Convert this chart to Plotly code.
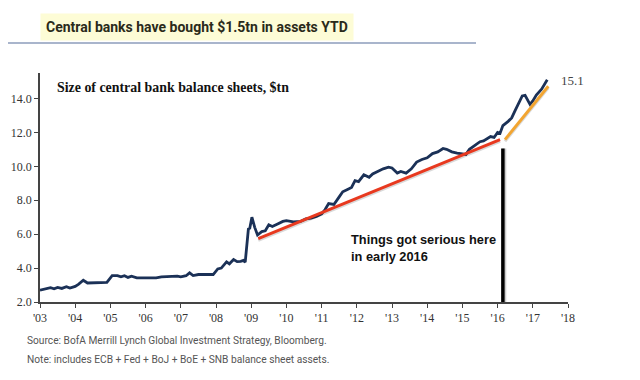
import plotly.graph_objects as go

# ---- data (decimal years, $tn) ----
dates = [2003.00, 2003.15, 2003.30, 2003.40, 2003.50, 2003.62, 2003.75, 2003.85, 2004.00, 2004.10,
         2004.23, 2004.35, 2004.50, 2004.70, 2004.90, 2005.05, 2005.20, 2005.30, 2005.40, 2005.50,
         2005.60, 2005.75, 2005.90, 2006.10, 2006.30, 2006.45, 2006.60, 2006.75, 2006.90, 2007.00,
         2007.15, 2007.25, 2007.35, 2007.50, 2007.65, 2007.80, 2007.92, 2008.05, 2008.15, 2008.30,
         2008.38, 2008.50, 2008.60, 2008.70, 2008.78, 2008.83, 2008.88, 2008.92, 2008.96, 2009.02,
         2009.10, 2009.18, 2009.30, 2009.40, 2009.50, 2009.60, 2009.75, 2009.90, 2010.00, 2010.20,
         2010.40, 2010.55, 2010.70, 2010.85, 2011.00, 2011.10, 2011.20, 2011.35, 2011.50, 2011.60,
         2011.75, 2011.85, 2011.95, 2012.05, 2012.20, 2012.35, 2012.45, 2012.60, 2012.75, 2012.90,
         2013.00, 2013.15, 2013.25, 2013.40, 2013.55, 2013.70, 2013.85, 2014.00, 2014.15, 2014.30,
         2014.45, 2014.55, 2014.70, 2014.85, 2015.00, 2015.10, 2015.20, 2015.35, 2015.50, 2015.60,
         2015.70, 2015.80, 2015.90, 2016.00, 2016.07, 2016.15, 2016.30, 2016.40, 2016.50, 2016.60,
         2016.70, 2016.78, 2016.92, 2017.00, 2017.10, 2017.25, 2017.35, 2017.41]
balance = [2.70, 2.78, 2.84, 2.78, 2.86, 2.80, 2.90, 2.82, 2.92, 3.05,
           3.28, 3.12, 3.14, 3.14, 3.16, 3.55, 3.55, 3.48, 3.55, 3.45,
           3.52, 3.42, 3.42, 3.40, 3.42, 3.48, 3.50, 3.48, 3.52, 3.48,
           3.55, 3.72, 3.56, 3.62, 3.62, 3.66, 3.62, 3.95, 4.00, 4.37,
           4.25, 4.50, 4.38, 4.40, 4.45, 4.35, 5.40, 6.30, 6.35, 7.00,
           6.40, 5.95, 6.15, 6.20, 6.55, 6.45, 6.60, 6.75, 6.80, 6.72,
           6.75, 6.90, 6.95, 7.05, 7.20, 7.45, 7.80, 7.75, 8.20, 8.50,
           8.65, 8.75, 9.15, 9.10, 9.50, 9.35, 9.55, 9.70, 9.85, 9.95,
           9.90, 9.60, 9.70, 9.60, 9.85, 10.25, 10.40, 10.50, 10.75, 10.85,
           11.05, 11.00, 10.85, 10.78, 10.75, 10.70, 11.00, 11.25, 11.45, 11.50,
           11.65, 11.75, 11.70, 12.00, 11.95, 12.40, 12.65, 12.85, 13.30, 13.75,
           14.15, 14.18, 13.65, 13.85, 14.20, 14.55, 14.85, 15.10]

trend1_x = [2009.20, 2016.07]
trend1_y = [5.74, 11.57]
trend2_x = [2016.21, 2017.44]
trend2_y = [11.57, 14.72]
marker_x = [2016.15, 2016.15]
marker_y = [2.0, 11.05]

year_ticks = list(range(2003, 2019))
year_labels = ["'%02d" % (y % 100) for y in year_ticks]
y_ticks = [2, 4, 6, 8, 10, 12, 14]
last_label = "15.1"

SERIF = "Liberation Serif, Times New Roman, serif"
SANS = "Roboto, Liberation Sans, Arial, sans-serif"

fig = go.Figure()
# soft shadow of the vertical marker
fig.add_trace(go.Scatter(x=[marker_x[0] + 0.04, marker_x[1] + 0.04], y=marker_y, mode="lines",
                         line=dict(color="rgba(0,0,0,0.2)", width=4), hoverinfo="skip"))
fig.add_trace(go.Scatter(x=marker_x, y=marker_y, mode="lines",
                         line=dict(color="#000000", width=3.5), hoverinfo="skip"))
fig.add_trace(go.Scatter(x=dates, y=balance, mode="lines",
                         line=dict(color="#1b3157", width=2.8)))
fig.add_trace(go.Scatter(x=trend1_x, y=[v - 0.1 for v in trend1_y], mode="lines",
                         line=dict(color="rgba(0,0,0,0.15)", width=3), hoverinfo="skip"))
fig.add_trace(go.Scatter(x=trend1_x, y=trend1_y, mode="lines",
                         line=dict(color="#e8391f", width=3)))
fig.add_trace(go.Scatter(x=trend2_x, y=[v - 0.1 for v in trend2_y], mode="lines",
                         line=dict(color="rgba(0,0,0,0.15)", width=3), hoverinfo="skip"))
fig.add_trace(go.Scatter(x=trend2_x, y=trend2_y, mode="lines",
                         line=dict(color="#f2a531", width=3)))

# page body has an 8px margin, so the figure is 8px smaller and shifted
fig.update_layout(
    width=632, height=372,
    margin=dict(l=32, r=72, t=65, b=78, autoexpand=False),
    paper_bgcolor="white", plot_bgcolor="white",
    showlegend=False,
    xaxis=dict(range=[2003, 2018], tickvals=year_ticks, ticktext=year_labels, automargin=False,
               showgrid=False, zeroline=False, showline=True, linecolor="#444", linewidth=1.5,
               ticks="outside", ticklen=4, tickcolor="#444", tickwidth=1.2,
               tickfont=dict(family=SERIF, size=12, color="#333")),
    yaxis=dict(range=[2, 15.5], tickvals=y_ticks, tickformat=".1f", automargin=False,
               showgrid=False, zeroline=False, showline=True, linecolor="#444", linewidth=1.5,
               ticks="outside", ticklen=4, tickcolor="#444", tickwidth=1.2,
               tickfont=dict(family=SERIF, size=12, color="#333")),
)

annotations = [
    dict(text="<b>Central banks have bought $1.5tn in assets YTD</b>", xref="paper", yref="paper",
         x=0.298, y=1.2, xanchor="center", yanchor="middle", showarrow=False,
         bgcolor="#fdfcd6", borderpad=5,
         font=dict(family=SANS, size=14, color="#2a2a1a")),
    dict(text="<b>Size of central bank balance sheets, $tn</b>", xref="x", yref="y",
         x=2003.42, y=14.65, xanchor="left", yanchor="middle", showarrow=False,
         font=dict(family=SERIF, size=13.9, color="#111")),
    dict(text="<b>Things got serious here<br>in early 2016</b>", xref="x", yref="y",
         x=2011.79, y=5.2, xanchor="left", yanchor="middle", align="left", showarrow=False,
         font=dict(family="Liberation Sans, Arial, sans-serif", size=12.8, color="#111")),
    dict(text=last_label, xref="x", yref="y", x=2017.75, y=15.05, xanchor="left",
         yanchor="middle", showarrow=False, font=dict(family=SERIF, size=13, color="#444")),
    dict(text="Source: BofA Merrill Lynch Global Investment Strategy, Bloomberg.", xref="paper",
         yref="paper", x=-0.028, y=-0.166, xanchor="left", yanchor="middle", showarrow=False,
         font=dict(family=SANS, size=10.2, color="#555")),
    dict(text="Note: includes ECB + Fed + BoJ + BoE + SNB balance sheet assets.", xref="paper",
         yref="paper", x=-0.028, y=-0.253, xanchor="left", yanchor="middle", showarrow=False,
         font=dict(family=SANS, size=10.2, color="#555")),
]
fig.update_layout(annotations=annotations)

fig.add_shape(type="line", xref="paper", yref="paper", x0=-0.0663, x1=0.8258, y0=1.131, y1=1.131,
              line=dict(color="#8c9dbb", width=1.5))

fig.write_html("out.html")
